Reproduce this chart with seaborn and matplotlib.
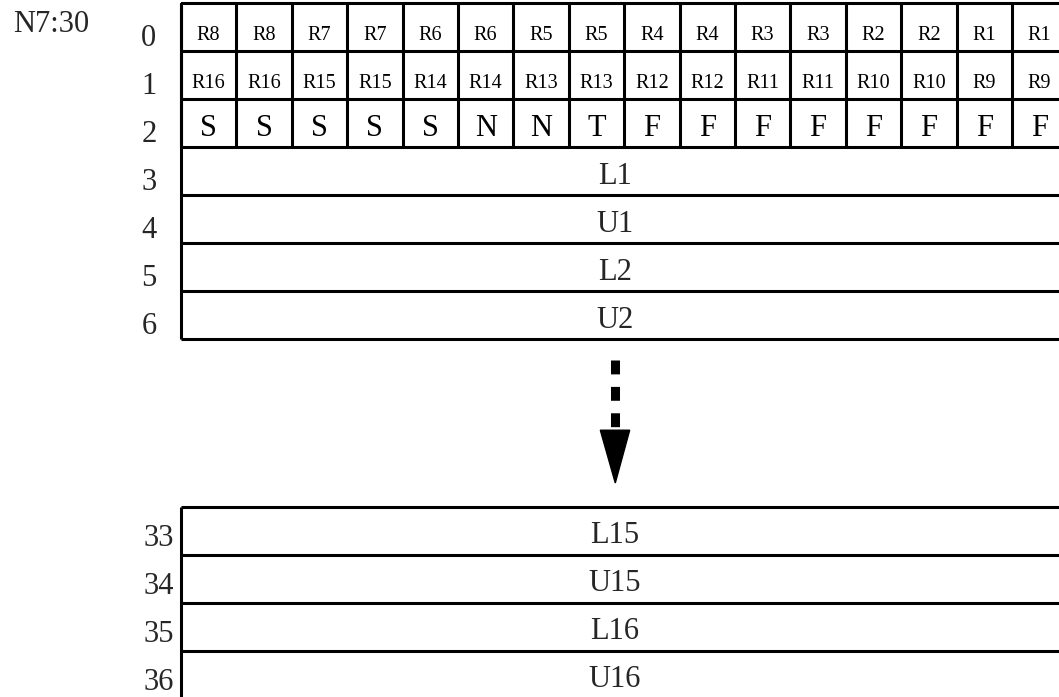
import numpy as np
import seaborn as sns
import matplotlib
matplotlib.use("Agg")
import matplotlib.pyplot as plt
from matplotlib.colors import ListedColormap
from matplotlib.patches import Polygon

# cell labels of the first three words
row0_labels = ["R8", "R8", "R7", "R7", "R6", "R6", "R5", "R5",
               "R4", "R4", "R3", "R3", "R2", "R2", "R1", "R1"]
row1_labels = ["R16", "R16", "R15", "R15", "R14", "R14", "R13", "R13",
               "R12", "R12", "R11", "R11", "R10", "R10", "R9", "R9"]
row2_labels = ["S", "S", "S", "S", "S", "N", "N", "T",
               "F", "F", "F", "F", "F", "F", "F", "F"]

# full width words
top_words = ["L1", "U1", "L2", "U2"]
bottom_words = ["L15", "U15", "L16", "U16"]
top_numbers = [0, 1, 2, 3, 4, 5, 6]
bottom_numbers = [33, 34, 35, 36]
file_name = "N7:30"

n_cols = len(row0_labels)
gap_start = 10.5  # where the lower block begins (in row units)
lw = 2.2

sns.set_theme(style="white")
plt.rcParams['font.family'] = ['Liberation Serif', 'DejaVu Serif']
plt.rcParams['lines.scale_dashes'] = False

fig = plt.figure(figsize=(10.59, 6.97), dpi=100)
ax = fig.add_axes([0, 0, 1, 1])

# grid of the first three words
grid = np.zeros((3, n_cols))
sns.heatmap(grid, ax=ax, cmap=ListedColormap(["white"]), cbar=False,
            linewidths=1.3, linecolor="black", annot=False)
ax.vlines(np.arange(n_cols + 1), 0, 3, color="black", lw=lw)

for r, labels in enumerate([row0_labels, row1_labels, row2_labels]):
    size = 14.5 if r < 2 else 22
    for c, lab in enumerate(labels):
        ax.text(c + 0.5, r + 0.77, lab, ha="center", va="baseline",
                fontsize=size, color="black")

# upper block of full-width words
ax.hlines(np.arange(0, 3 + len(top_words) + 1), 0, n_cols, color="black", lw=lw)
ax.vlines(0, 0, 3 + len(top_words), color="black", lw=lw)
for i, w in enumerate(top_words):
    ax.text(7.83, 3 + i + 0.77, w, ha="center", va="baseline", fontsize=22)

for i, n in enumerate(top_numbers):
    ax.text(-0.58, i + 0.9, str(n), ha="center", va="baseline", fontsize=22)

ax.text(-3.03, 0.6, file_name, ha="left", va="baseline", fontsize=22)

# lower block
ys = gap_start + np.arange(len(bottom_words) + 1)
ax.hlines(ys, 0, n_cols, color="black", lw=lw)
ax.vlines(0, gap_start, gap_start + len(bottom_words), color="black", lw=lw)
for i, w in enumerate(bottom_words):
    ax.text(7.83, gap_start + i + 0.75, w, ha="center", va="baseline", fontsize=22)
for i, n in enumerate(bottom_numbers):
    ax.text(-0.13, gap_start + i + 0.82, str(n), ha="right", va="baseline", fontsize=22)

# dashed arrow between the blocks
ax.plot([7.84, 7.84], [7.44, 8.95], color="black", lw=6.5,
        dashes=(10, 9), solid_capstyle="butt", dash_capstyle="butt")
ax.add_patch(Polygon([[7.57, 8.9], [8.10, 8.9], [7.84, 10.0]],
                     closed=True, color="black"))

ax.set_xlim(-3.267, 15.85)
ax.set_ylim(14.458, -0.0625)
ax.axis("off")

fig.savefig("out.png", dpi=100, facecolor="white")
